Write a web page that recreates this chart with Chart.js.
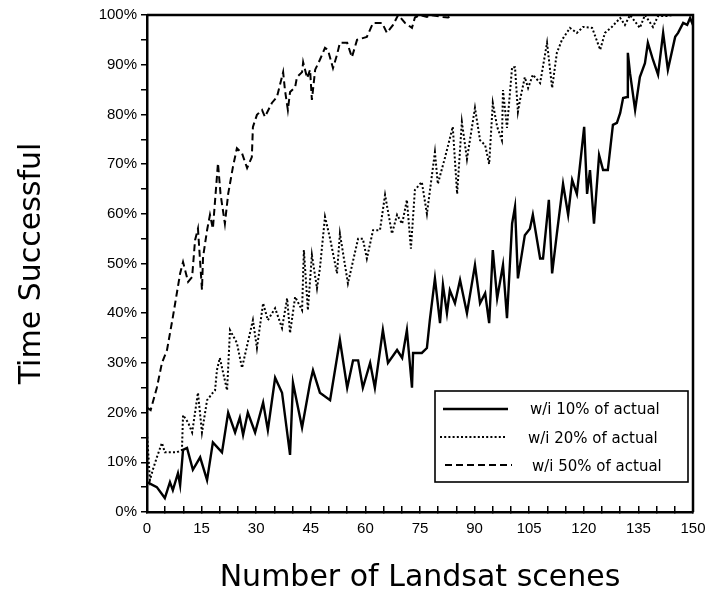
<!DOCTYPE html>
<html>
<head>
<meta charset="utf-8">
<script src="https://cdn.jsdelivr.net/npm/chart.js@4/dist/chart.umd.min.js"></script>
<style>
  html, body { margin: 0; padding: 0; background: #fff; }
  #wrap { width: 711px; height: 596px; }
</style>
</head>
<body>
<div id="wrap"><canvas id="c" width="711" height="596"></canvas></div>
<script>
// ---- data ----
const seriesLabels = ["w/i 10% of actual", "w/i 20% of actual", "w/i 50% of actual"];

const scenes10 = [0,2.7,4.9,6.3,7.1,8.5,9.1,9.9,11,12.6,14.6,16.5,18.1,20.6,22.3,24.2,25.5,26.4,27.7,29.7,31.9,33.2,35.2,37.1,39.3,40.1,42.6,44.8,45.6,47.5,50.3,53,55,56.6,58,59.3,61.3,62.6,64.8,66.2,68.7,70.1,71.4,72.8,73.1,75.5,76.9,77.7,79.1,80.5,81.3,82.4,83.2,84.6,86,87.9,90.1,91.5,92.9,94,95,96.2,97.8,98.9,100.3,101.1,101.9,103.8,105.2,106,108,108.8,110.4,111.3,112.6,114.3,115.7,116.8,118.1,120.1,120.9,121.7,122.8,124.2,125.3,126.6,128,129.1,130,130.8,131.9,132.1,132.7,134.1,135.4,136.8,137.6,139,140.4,141.8,143.1,145.1,145.9,147.3,148.4,149.2,150];
const pct10 = [6,5,2.8,6,4.4,7.8,5.4,12.5,12.9,8.5,11,6.4,14,12,20,16,19,15.5,20,16,22,16.5,27,24,11.5,26,17,26,28.5,24,22.5,34.6,25,30.5,30.5,25,30,25,36.6,30,32.6,31,36.6,25,32,32,33,38.6,47,38,45.7,40,44.6,42,46.7,40,49.7,42,44,38,52.7,43,49.7,39,58,61.4,47,55.7,57,59.8,51,51,62.8,48,56,66,59.8,66.8,64,77.5,64,68.8,58,71.8,68.8,68.8,77.9,78.3,80.3,83.3,83.5,92.4,88.3,80.9,87.5,90.3,94.4,91,88,96.4,89,95.6,96.4,98.4,98,99.4,98];

const scenes20 = [0,0.8,1.6,2.7,4.1,4.9,6.3,8.2,9.6,9.9,11.3,12.4,13.2,14,15.1,16.5,18.1,18.7,19.2,20,22,22.8,24.7,26.1,29.1,30.2,31.9,33.2,35.2,37.1,38.5,39.3,40.7,42.6,43.1,44.2,45.3,46.7,47.5,48.9,50.3,52.2,53,55.2,58,59.3,60.4,62.1,64,65.4,67.3,68.7,70.1,71.4,72.5,73.6,75.5,76.9,79.1,79.9,81.9,84,85.2,86.5,87.9,90.1,91.5,92.9,94,95,96.2,97.5,97.8,98.9,100.3,101.1,101.9,102.5,103.8,104.7,106,108,109.9,111.3,112.6,114,116.2,118.1,119.8,122.3,124.5,125.8,127.7,130,131.3,132.7,135.4,136.8,139,140.4,142.9,144.5,150];
const pct20 = [16,6.4,8.5,11,13.9,12,12,12,12.5,19.5,18,16,20,24,16,22.5,24,24.5,28.5,31,24.5,36.6,34,29,38.6,33,42,38.6,41,37,43,36,43.3,40.6,52.7,40.6,51.7,45,49,59.4,55,48,56,46,55,55,51,56.7,56.7,63.8,56,59.8,58,62.8,53,64.8,66.4,60,72.4,66,71.4,77.5,64,78.5,71,81.3,74.8,73.8,70,82.3,77.5,74.8,84.9,77.3,89.5,89.5,80.5,83,87.5,85.3,88,86.3,94.4,85.3,92.4,95,97.4,96.4,97.6,97.4,93,96.4,97.6,99.4,98,100,97.4,100,97.6,99.8,99.8,100,100];

const scenes50 = [0,1,2.7,4.1,5.5,7.1,9.1,9.9,11.3,12.4,13.2,14,15.1,15.4,16.5,17.3,18.1,19.5,20.2,21.4,22.3,23.6,24.7,26.1,27.5,28.8,29.1,30.2,31.6,32.4,34.3,35.7,37.4,37.9,38.7,39.3,40.7,41.2,42.6,42.9,44,44.8,45.3,46.2,47.5,48.9,49.7,51.1,52.2,53,55,56.3,57.7,60.4,62.1,64.6,65.9,67.6,69,70.9,72.8,73.6,75,76.9,77.7,81.3,82.7,84,150];
const pct50 = [21,20.5,25,30,32.6,39.2,48,50.3,46.3,47.3,54.7,57,44.7,51.3,56.7,59.8,57,70.2,64,58,64,69.4,73.2,72.2,69.2,71.4,77.5,79.9,80.9,79.5,82.3,83.5,88.5,84.9,80.9,84.5,85.5,87.5,88.5,90.5,87.3,89,82.9,89,91,93.4,93,89.3,92,94.4,94.4,91.5,95,95.6,98.4,98.4,96.4,98,100,98.4,97.4,99.5,100,99.6,100,99.6,99.5,100,100];

const xMin = 0, xMax = 150, xStep = 5, xLabelEvery = 15;
const yMin = 0, yMax = 100, yStep = 5, yLabelEvery = 10;
const xTitle = "Number of Landsat scenes";
const yTitle = "Time Successful";

// ---- build ----
const FONT = "'Liberation Sans', Arial, Helvetica, sans-serif";
const FONT_WIDE = "'DejaVu Sans', 'Liberation Sans', sans-serif";
const pts = (xs, ys) => xs.map((x, i) => ({ x: x, y: ys[i] }));

const styles = [
  { borderWidth: 2.4, borderDash: [] },
  { borderWidth: 2.0, borderDash: [2, 2.2] },
  { borderWidth: 2.0, borderDash: [7, 4] }
];

const datasets = [
  pts(scenes10, pct10),
  pts(scenes20, pct20),
  pts(scenes50, pct50)
].map((d, i) => ({
  label: seriesLabels[i],
  data: d,
  borderColor: '#000',
  backgroundColor: '#000',
  borderWidth: styles[i].borderWidth,
  borderDash: styles[i].borderDash,
  pointRadius: 0,
  tension: 0,
  fill: false
}));

const framePlugin = {
  id: 'frame',
  afterDraw(chart) {
    const ctx = chart.ctx;
    const a = chart.chartArea;
    ctx.save();
    ctx.strokeStyle = '#000';
    ctx.lineWidth = 2.5;
    ctx.beginPath();
    ctx.moveTo(a.left, a.top);
    ctx.lineTo(a.right, a.top);
    ctx.lineTo(a.right, a.bottom);
    ctx.stroke();

    // legend box
    const bx = a.right - 258, by = a.bottom - 121, bw = 253, bh = 91;
    ctx.lineWidth = 1.6;
    ctx.fillStyle = '#fff';
    ctx.fillRect(bx, by, bw, bh);
    ctx.strokeRect(bx, by, bw, bh);
    const rows = [
      { y: by + 18, x1: bx + 8, x2: bx + 73, tx: bx + 95, ty: by + 19 },
      { y: by + 46, x1: bx + 5, x2: bx + 71, tx: bx + 93, ty: by + 48 },
      { y: by + 74, x1: bx + 10, x2: bx + 77, tx: bx + 97, ty: by + 76 }
    ];
    ctx.font = '15px ' + FONT_WIDE;
    ctx.textBaseline = 'middle';
    ctx.textAlign = 'left';
    rows.forEach((r, i) => {
      ctx.beginPath();
      ctx.setLineDash(styles[i].borderDash);
      ctx.lineWidth = i === 0 ? 2.4 : 2.0;
      ctx.moveTo(r.x1, r.y);
      ctx.lineTo(r.x2, r.y);
      ctx.stroke();
      ctx.setLineDash([]);
      ctx.fillStyle = '#000';
      ctx.fillText(seriesLabels[i], r.tx, r.ty);
    });
    ctx.restore();
  }
};

new Chart(document.getElementById('c'), {
  type: 'line',
  data: { datasets: datasets },
  options: {
    responsive: false,
    animation: false,
    devicePixelRatio: 1,
    layout: { padding: { left: 0, right: 18, top: 15, bottom: 0 } },
    plugins: { legend: { display: false }, tooltip: { enabled: false } },
    scales: {
      x: {
        type: 'linear',
        min: xMin, max: xMax,
        afterFit(s) { s.height = 84; s.paddingLeft = 0; s.paddingRight = 0; },
        border: { color: '#000', width: 2.5 },
        grid: { drawOnChartArea: false, color: '#000', lineWidth: 1.5, tickLength: -6 },
        ticks: {
          stepSize: xStep,
          autoSkip: false,
          maxRotation: 0,
          color: '#000',
          padding: 14,
          font: { family: FONT, size: 15 },
          callback: v => (v % xLabelEvery === 0 ? String(v) : '')
        },
        title: {
          display: true,
          text: xTitle,
          color: '#000',
          font: { family: FONT_WIDE, size: 30 },
          padding: { top: 0, bottom: 0 }
        }
      },
      y: {
        type: 'linear',
        min: yMin, max: yMax,
        afterFit(s) { s.width = 147; s.paddingTop = 0; s.paddingBottom = 0; },
        border: { color: '#000', width: 2.5 },
        grid: { drawOnChartArea: false, color: '#000', lineWidth: 1.5, tickLength: 6 },
        ticks: {
          stepSize: yStep,
          autoSkip: false,
          color: '#000',
          padding: 4,
          font: { family: FONT, size: 15 },
          callback: v => (v % yLabelEvery === 0 ? v + '%' : '')
        },
        title: {
          display: true,
          text: yTitle,
          color: '#000',
          font: { family: FONT_WIDE, size: 30 },
          padding: { top: 14, bottom: 0 }
        }
      }
    }
  },
  plugins: [framePlugin]
});
</script>
</body>
</html>
